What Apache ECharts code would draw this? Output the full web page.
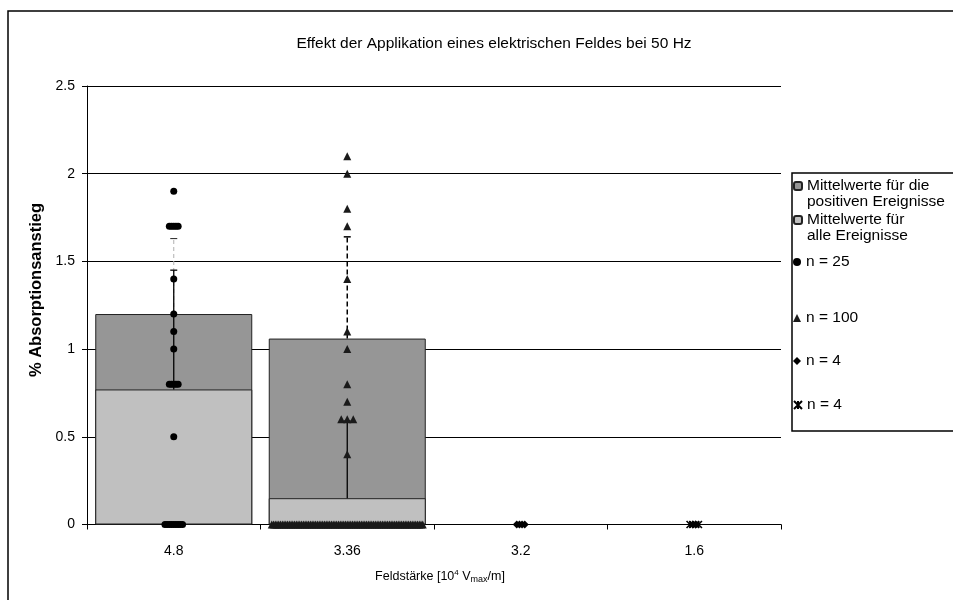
<!DOCTYPE html>
<html>
<head>
<meta charset="utf-8">
<script src="https://cdn.jsdelivr.net/npm/echarts@6/dist/echarts.min.js"></script>
<style>
  html, body { margin: 0; padding: 0; background: #fff; }
  #chart { width: 953px; height: 600px; }
</style>
</head>
<body>
<div id="chart"></div>
<script>
// Field strengths on the x axis
const categories = ['4.8', '3.36', '3.2', '1.6'];

// Mean absorption increase (%) per field strength
const meanPositive = [1.2, 1.06, null, null];   // mean of the positive events
const meanAll = [0.77, 0.15, null, null];       // mean of all events

// Upper error bar lengths
const errPositive = [0.43, 0.58, null, null];
const errAll = [0.68, 0.44, null, null];

// Individual measurements
const pointsN25 = [1.9, 1.7, 1.7, 1.7, 1.7, 1.7, 1.4, 1.2, 1.1, 1.0,
  0.8, 0.8, 0.8, 0.8, 0.8, 0.5, 0, 0, 0, 0, 0, 0, 0, 0, 0];
const pointsN100 = [2.1, 2.0, 1.8, 1.7, 1.4, 1.1, 1.0, 0.8, 0.7, 0.6, 0.6, 0.6, 0.4,
  0, 0, 0, 0, 0, 0, 0, 0, 0, 0, 0, 0, 0, 0, 0, 0, 0, 0, 0, 0,
  0, 0, 0, 0, 0, 0, 0, 0, 0, 0, 0, 0, 0, 0, 0, 0, 0, 0, 0, 0,
  0, 0, 0, 0, 0, 0, 0, 0, 0, 0, 0, 0, 0, 0, 0, 0, 0, 0, 0, 0,
  0, 0, 0, 0, 0, 0, 0, 0, 0, 0, 0, 0, 0, 0, 0, 0, 0, 0, 0, 0,
  0, 0, 0, 0, 0, 0, 0];
const pointsN4a = [0, 0, 0, 0];
const pointsN4b = [0, 0, 0, 0];

// Y axis ticks
const yMin = 0, yMax = 2.5, yStep = 0.5;

const FONT = '"Liberation Sans", Arial, Helvetica, sans-serif';

const legendText = {
  'Mittelwerte positiv': ' \nMittelwerte für die\npositiven Ereignisse',
  'Mittelwerte alle': ' \nMittelwerte für\nalle Ereignisse',
  'n = 25': 'n = 25',
  'n = 100': 'n = 100',
  'n = 4 (3.2)': 'n = 4',
  'n = 4 (1.6)': 'n = 4'
};

// Spread repeated values sideways so that overlapping markers stay visible
function sideOffsets(values, step, span) {
  const counts = {}, seen = {};
  values.forEach(v => { counts[v] = (counts[v] || 0) + 1; });
  return values.map(v => {
    const m = counts[v];
    seen[v] = seen[v] === undefined ? 0 : seen[v] + 1;
    const s = m > 1 ? Math.min(step, span / (m - 1)) : 0;
    return (seen[v] - (m - 1) / 2) * s;
  });
}

function scatterData(catIndex, values, step, span) {
  const offs = sideOffsets(values, step, span);
  return values.map((v, k) => ({ value: [catIndex, v], symbolOffset: [offs[k], 0] }));
}

function errorData(means, errs) {
  const out = [];
  means.forEach((m, i) => {
    if (m != null && errs[i] != null) out.push([i, m, m + errs[i]]);
  });
  return out;
}

function errorRenderer(styleFor) {
  return function (params, api) {
    const x = api.value(0);
    const p0 = api.coord([x, api.value(1)]);
    const p1 = api.coord([x, api.value(2)]);
    const st = styleFor(params.dataIndex);
    return {
      type: 'group',
      children: [
        { type: 'line', shape: { x1: p0[0], y1: p0[1], x2: p1[0], y2: p1[1] }, style: st.stem },
        { type: 'line', shape: { x1: p1[0] - 3.5, y1: p1[1], x2: p1[0] + 3.5, y2: p1[1] }, style: st.cap }
      ]
    };
  };
}

const dashedStyles = [
  { stem: { stroke: '#b0b0b0', lineWidth: 1, lineDash: [4, 3] }, cap: { stroke: '#222', lineWidth: 1 } },
  { stem: { stroke: '#000', lineWidth: 1.5, lineDash: [5, 3] }, cap: { stroke: '#000', lineWidth: 1.5 } }
];
const solidStyle = { stem: { stroke: '#000', lineWidth: 1.3 }, cap: { stroke: '#000', lineWidth: 1.3 } };

const legendTextStyle = { fontFamily: FONT, fontSize: 15.5, color: '#000', lineHeight: 16 };
function legendAt(name, top) {
  return {
    data: [name],
    left: 793,
    top: top,
    orient: 'vertical',
    padding: 0,
    itemWidth: 8,
    itemHeight: 8,
    itemGap: 0,
    selectedMode: false,
    textStyle: legendTextStyle,
    formatter: n => legendText[n]
  };
}

const chart = echarts.init(document.getElementById('chart'), null, { renderer: 'canvas' });

chart.setOption({
  animation: false,
  backgroundColor: '#fff',
  title: {
    text: 'Effekt der Applikation eines elektrischen Feldes bei 50 Hz',
    left: 489,
    top: 31,
    textAlign: 'center',
    textStyle: { fontFamily: FONT, fontSize: 15.5, fontWeight: 'normal', color: '#000' }
  },
  graphic: [
    { type: 'rect', shape: { x: 8, y: 11, width: 1000, height: 700 }, style: { fill: 'none', stroke: '#000', lineWidth: 1.5 }, z: 100 },
    { type: 'rect', shape: { x: 792, y: 173, width: 200, height: 258 }, style: { fill: '#fff', stroke: '#000', lineWidth: 1.5 }, z: -1 },
    {
      type: 'text', x: 36, y: 290, rotation: Math.PI / 2,
      style: {
        text: '% Absorptionsanstieg', align: 'center', verticalAlign: 'middle',
        font: 'bold 16.5px ' + FONT, fill: '#000'
      }
    }
  ],
  legend: [
    legendAt('Mittelwerte positiv', 162),
    legendAt('Mittelwerte alle', 196),
    legendAt('n = 25', 254),
    legendAt('n = 100', 310),
    legendAt('n = 4 (3.2)', 353),
    legendAt('n = 4 (1.6)', 397)
  ],
  grid: { left: 87, right: 172, top: 86, bottom: 75.5, containLabel: false },
  xAxis: {
    type: 'category',
    data: categories,
    boundaryGap: true,
    axisLine: { lineStyle: { color: '#000', width: 1 } },
    axisTick: { show: true, length: 5, lineStyle: { color: '#000' } },
    axisLabel: { margin: 20, fontFamily: FONT, fontSize: 14, color: '#000' },
    name: '{a|Feldstärke [10}{s|4}{a| V}{b|max}{a|/m]}',
    nameLocation: 'middle',
    nameGap: 44,
    nameTextStyle: {
      fontFamily: FONT, color: '#000',
      padding: [0, 0, 0, 12],
      rich: {
        a: { fontFamily: FONT, fontSize: 12.5, color: '#000', lineHeight: 16 },
        s: { fontFamily: FONT, fontSize: 8, color: '#000', verticalAlign: 'top', lineHeight: 16 },
        b: { fontFamily: FONT, fontSize: 9, color: '#000', verticalAlign: 'bottom', lineHeight: 14 }
      }
    },
    splitLine: { show: false }
  },
  yAxis: {
    type: 'value',
    min: yMin,
    max: yMax,
    interval: yStep,
    axisLine: { show: true, lineStyle: { color: '#000', width: 1 } },
    axisTick: { show: true, length: 5, lineStyle: { color: '#000' } },
    axisLabel: { margin: 12, fontFamily: FONT, fontSize: 14, color: '#000' },
    splitLine: { show: true, lineStyle: { color: '#000', width: 1 } }
  },
  series: [
    {
      name: 'Mittelwerte positiv',
      type: 'bar',
      data: meanPositive,
      barWidth: 157,
      barGap: '-100%',
      itemStyle: { color: '#969696', borderColor: '#222', borderWidth: 1 },
      legendIcon: 'rect',
      z: 2
    },
    {
      name: 'Mittelwerte alle',
      type: 'bar',
      data: meanAll,
      barWidth: 157,
      barGap: '-100%',
      itemStyle: { color: '#c0c0c0', borderColor: '#222', borderWidth: 1 },
      legendIcon: 'rect',
      z: 3
    },
    {
      type: 'custom',
      renderItem: errorRenderer(i => dashedStyles[i]),
      data: errorData(meanPositive, errPositive),
      z: 4
    },
    {
      type: 'custom',
      renderItem: errorRenderer(() => solidStyle),
      data: errorData(meanAll, errAll),
      z: 5
    },
    {
      name: 'n = 25',
      type: 'scatter',
      symbol: 'circle',
      symbolSize: 7,
      itemStyle: { color: '#000', opacity: 1 },
      data: scatterData(0, pointsN25, 2.2, 18),
      z: 6
    },
    {
      name: 'n = 100',
      type: 'scatter',
      symbol: 'triangle',
      symbolSize: 8,
      itemStyle: { color: '#1a1a1a', opacity: 1 },
      data: scatterData(1, pointsN100, 6, 151),
      z: 6
    },
    {
      name: 'n = 4 (3.2)',
      type: 'scatter',
      symbol: 'diamond',
      symbolSize: 8,
      itemStyle: { color: '#000', opacity: 1 },
      data: scatterData(2, pointsN4a, 2.7, 8),
      z: 6
    },
    {
      name: 'n = 4 (1.6)',
      type: 'scatter',
      symbol: 'path://M0,0L10,10M10,0L0,10M5,0L5,10',
      symbolSize: 7,
      itemStyle: { color: 'rgba(0,0,0,0)', borderColor: '#000', borderWidth: 1.6, opacity: 1 },
      data: scatterData(3, pointsN4b, 2.8, 9),
      z: 6
    }
  ]
});
</script>
</body>
</html>
